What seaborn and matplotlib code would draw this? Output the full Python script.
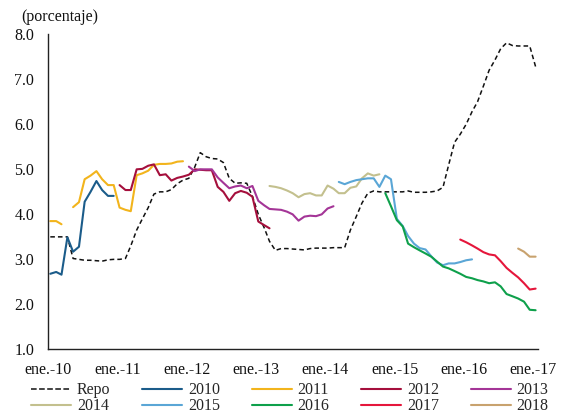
import numpy as np
import pandas as pd
import matplotlib
matplotlib.use("Agg")
import matplotlib.pyplot as plt
from matplotlib.lines import Line2D
import seaborn as sns

# ---------------- data (monthly, starting month given per series) ----------------
nan = np.nan

repo_start = "2010-01"
repo = [3.50, 3.50, 3.50, 3.50, 3.02, 3.00, 2.98, 2.98, 2.97, 2.96, 2.99, 3.00,
        3.00, 3.02, 3.30, 3.65, 3.90, 4.15, 4.45, 4.50, 4.50, 4.55, 4.68, 4.76,
        4.80, 5.05, 5.37, 5.28, 5.24, 5.23, 5.15, 4.80, 4.69, 4.70, 4.69, 4.40,
        4.00, 3.70, 3.40, 3.20, 3.24, 3.24, 3.23, 3.22, 3.21, 3.24, 3.25, 3.25,
        3.25, 3.26, 3.26, 3.26, 3.65, 3.95, 4.25, 4.47, 4.52, 4.50, 4.50, 4.50,
        4.50, 4.50, 4.52, 4.49, 4.49, 4.49, 4.50, 4.52, 4.60, 5.10, 5.60, 5.78,
        6.00, 6.28, 6.50, 6.85, 7.20, 7.43, 7.68, 7.81, 7.75, 7.74, 7.74, 7.74,
        7.28]

s2010_start = "2010-01"
s2010 = [2.68, 2.72, 2.66, 3.49, 3.17, 3.28, 4.28, 4.50, 4.74, 4.54, 4.41, 4.41]

s2011_start = "2010-01"
s2011 = [3.85, 3.85, 3.78, nan, 4.16, 4.27, 4.78, 4.86, 4.96, 4.78, 4.65, 4.65,
         4.15, 4.10, 4.07, 4.87, 4.91, 4.97, 5.10, 5.12, 5.12, 5.13, 5.17, 5.18]

s2012_start = "2011-01"
s2012 = [4.65, 4.54, 4.54, 5.00, 5.01, 5.08, 5.11, 4.87, 4.89, 4.75, 4.81, 4.84,
         4.88, 5.00, 4.99, 4.98, 4.98, 4.61, 4.50, 4.30, 4.47, 4.52, 4.48, 4.39,
         3.84, 3.76, 3.69]

s2013_start = "2012-01"
s2013 = [5.06, 4.96, 5.00, 5.00, 5.00, 4.82, 4.70, 4.58, 4.62, 4.64, 4.58, 4.63,
         4.30, 4.20, 4.12, 4.11, 4.10, 4.06, 4.00, 3.86, 3.95, 3.97, 3.96, 4.00,
         4.13, 4.18]

s2014_start = "2013-03"
s2014 = [4.63, 4.61, 4.58, 4.53, 4.47, 4.38, 4.45, 4.47, 4.42, 4.42, 4.64, 4.57,
         4.47, 4.47, 4.59, 4.62, 4.80, 4.91, 4.86, 4.89]

s2015_start = "2014-03"
s2015 = [4.72, 4.67, 4.72, 4.76, 4.78, 4.80, 4.80, 4.61, 4.86, 4.78, 3.90, 3.74,
         3.52, 3.35, 3.25, 3.22, 3.07, 2.93, 2.87, 2.91, 2.91, 2.94, 2.98, 3.00]

s2016_start = "2014-11"
s2016 = [4.47, 4.18, 3.87, 3.73, 3.35, 3.27, 3.20, 3.13, 3.06, 2.95, 2.84, 2.80,
         2.74, 2.68, 2.61, 2.58, 2.54, 2.51, 2.47, 2.49, 2.40, 2.23, 2.18, 2.13,
         2.06, 1.88, 1.87]

s2017_start = "2015-12"
s2017 = [3.44, 3.38, 3.31, 3.24, 3.16, 3.11, 3.09, 2.96, 2.81, 2.70, 2.60, 2.47,
         2.33, 2.35]

s2018_start = "2016-10"
s2018 = [3.24, 3.17, 3.06, 3.06]

tick_years = [2010, 2011, 2012, 2013, 2014, 2015, 2016, 2017]
tick_labels = ["ene.-10", "ene.-11", "ene.-12", "ene.-13",
               "ene.-14", "ene.-15", "ene.-16", "ene.-17"]
y_ticks = [1.0, 2.0, 3.0, 4.0, 5.0, 6.0, 7.0, 8.0]

series = [
    ("Repo", repo_start, repo, "#111111"),
    ("2010", s2010_start, s2010, "#1B5C8A"),
    ("2011", s2011_start, s2011, "#F2B41C"),
    ("2012", s2012_start, s2012, "#A50F3C"),
    ("2013", s2013_start, s2013, "#A43597"),
    ("2014", s2014_start, s2014, "#C3C08E"),
    ("2015", s2015_start, s2015, "#5AA6D6"),
    ("2016", s2016_start, s2016, "#0EA04B"),
    ("2017", s2017_start, s2017, "#E5163B"),
    ("2018", s2018_start, s2018, "#C8A26E"),
]

# ---------------- figure ----------------
sns.set_theme(style="white")
plt.rcParams["font.family"] = ["Liberation Serif", "DejaVu Serif"]
plt.rcParams["font.size"] = 11.5

fig = plt.figure(figsize=(5.65, 4.13), dpi=100)
ax = fig.add_axes([0.085, 0.154, 0.867, 0.763])

handles = {}
for name, start, vals, col in series:
    dates = pd.date_range(start=start + "-01", periods=len(vals), freq="MS") + pd.Timedelta(days=12)
    df = pd.DataFrame({"fecha": dates, "valor": vals})
    seg = df["valor"].isna().cumsum()
    df = df.assign(seg=seg).dropna()
    first = True
    for _, d in df.groupby("seg"):
        if name == "Repo":
            sns.lineplot(data=d, x="fecha", y="valor", ax=ax, color=col,
                         linewidth=1.1, linestyle=(0, (3.0, 2.0)))
        else:
            sns.lineplot(data=d, x="fecha", y="valor", ax=ax, color=col,
                         linewidth=1.5)
        if first:
            handles[name] = ax.lines[-1]
            first = False

ax.set_xlim(pd.Timestamp("2010-01-01"), pd.Timestamp("2017-01-25"))
ax.set_ylim(1.0, 8.0)
ax.set_xticks([pd.Timestamp(f"{y}-01-01") for y in tick_years])
ax.set_xticklabels(tick_labels)
ax.set_yticks(y_ticks)
ax.set_yticklabels([f"{v:.1f}" for v in y_ticks])
ax.set_xlabel("")
ax.set_ylabel("")

for s in ["top", "right"]:
    ax.spines[s].set_visible(False)
for s in ["left", "bottom"]:
    ax.spines[s].set_color("#222222")
    ax.spines[s].set_linewidth(1.0)

ax.tick_params(axis="x", direction="in", length=4, width=1, color="#222222",
               pad=9, labelsize=11.5, labelcolor="#111111")
ax.tick_params(axis="y", direction="in", length=4, width=1, color="#222222",
               pad=10, labelsize=11.5, labelcolor="#111111")
ax.grid(False)

fig.text(0.038, 0.96, "(porcentaje)", fontsize=11.5, va="center", ha="left", color="#111111")

order = ["Repo", "2014", "2010", "2015", "2011", "2016", "2012", "2017", "2013", "2018"]
leg_handles = []
for nm in order:
    h = handles[nm]
    leg_handles.append(Line2D([0], [0], color=h.get_color(),
                              linewidth=1.5 if nm != "Repo" else 1.1,
                              linestyle=h.get_linestyle()))
fig.legend(leg_handles, order, loc="upper center", bbox_to_anchor=(0.513, 0.074),
           ncol=5, frameon=False, fontsize=11.5, handlelength=2.5, handletextpad=0.35,
           columnspacing=2.0, labelspacing=0.0, borderaxespad=0, borderpad=0)

fig.savefig("out.png", dpi=100)
